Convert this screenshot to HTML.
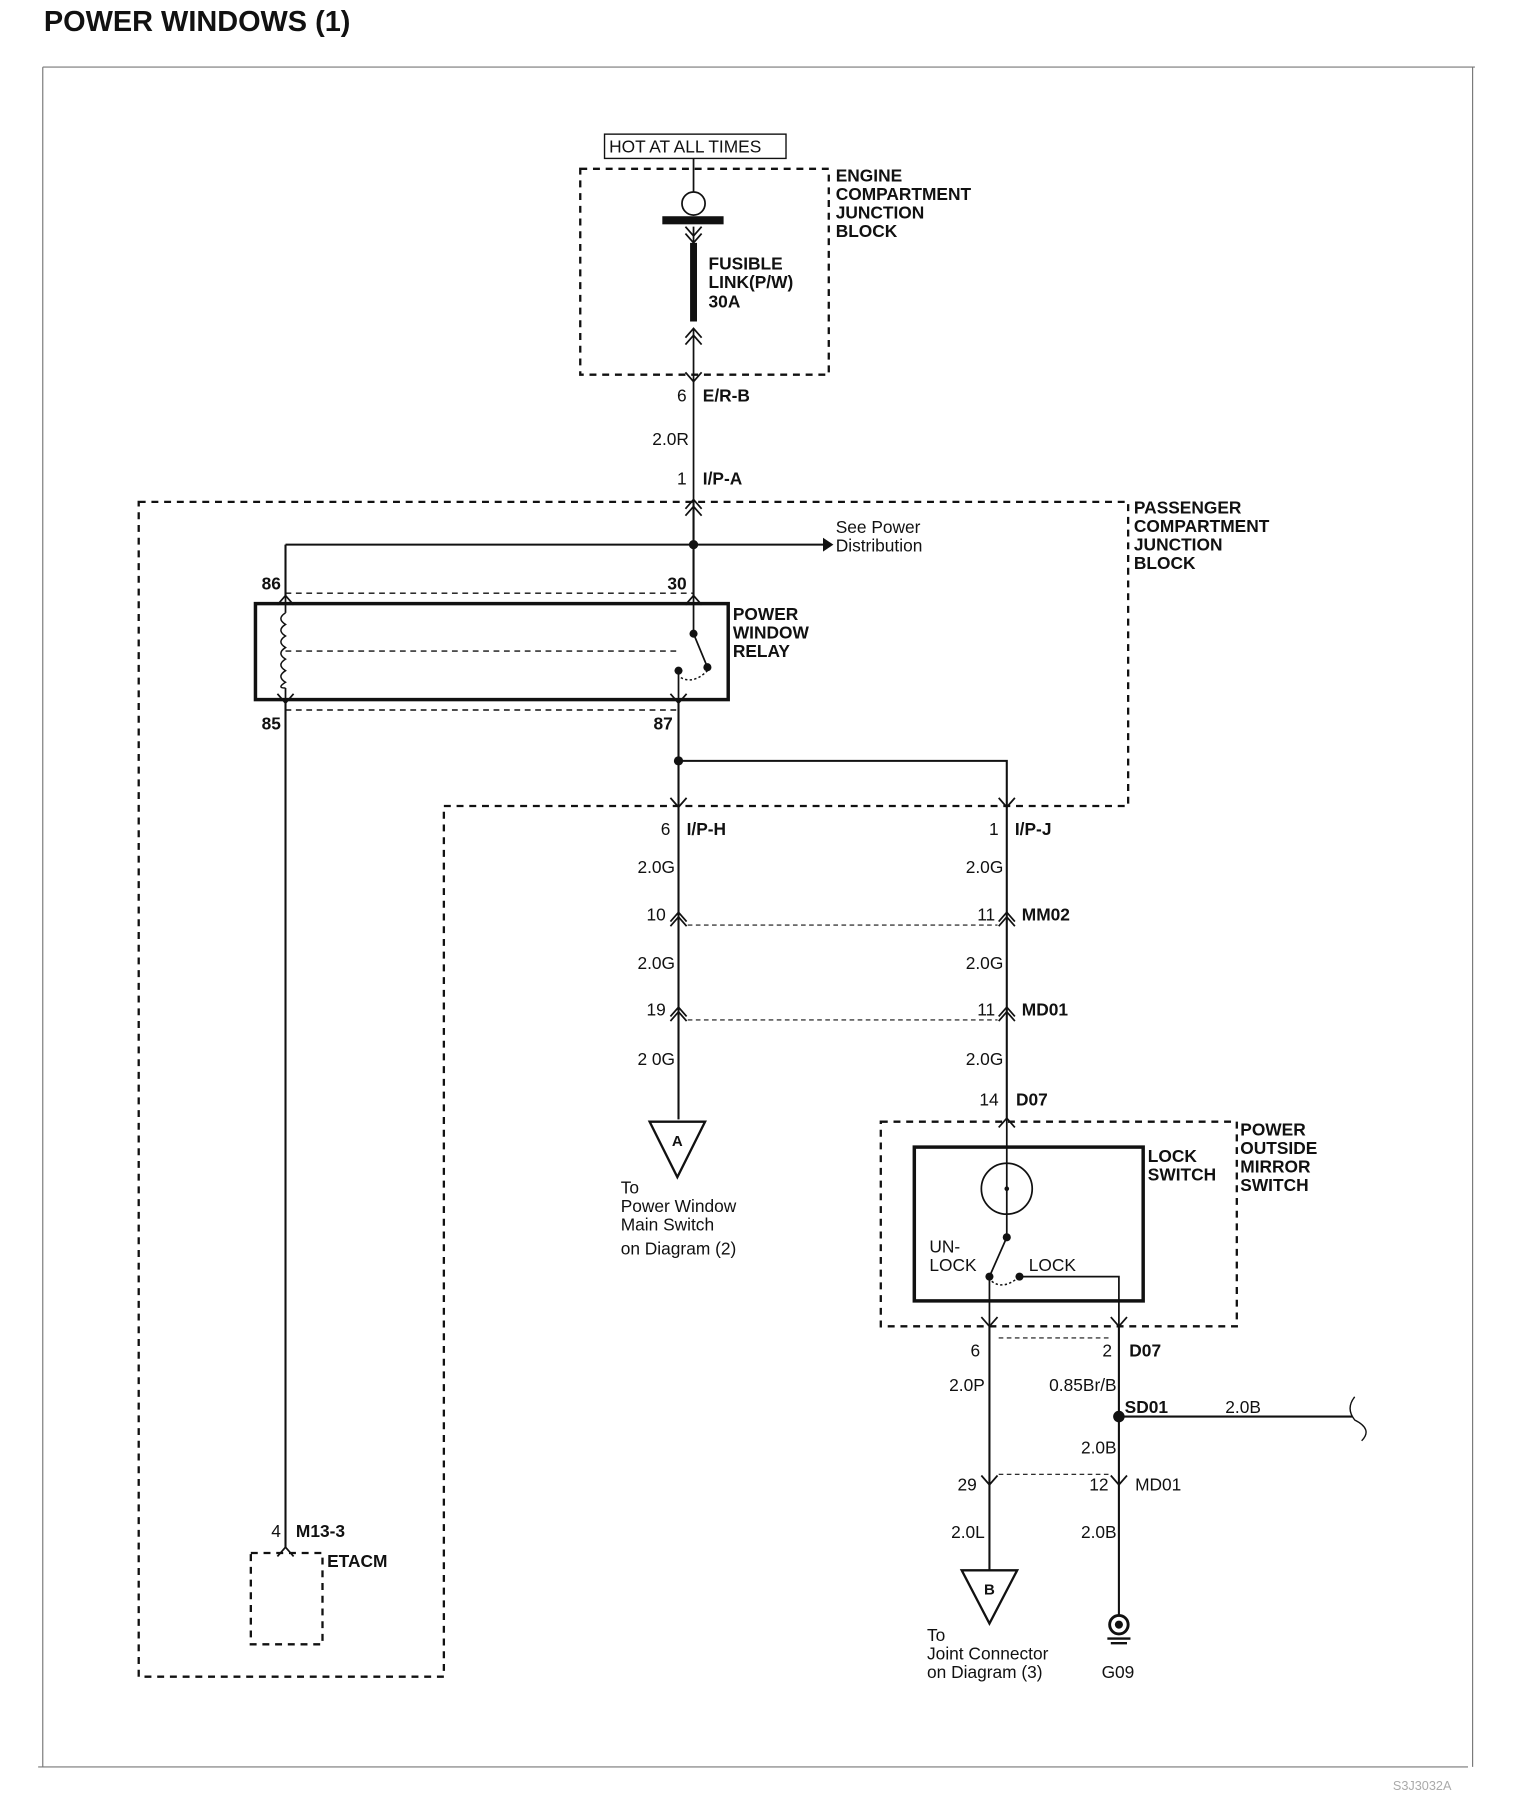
<!DOCTYPE html>
<html><head><meta charset="utf-8"><style>
html,body{margin:0;padding:0;background:#fff;}
svg{display:block;}
text{font-family:"Liberation Sans Narrow","Liberation Sans",sans-serif;fill:#111;}
.b{font-weight:bold;font-size:15px;}
.n{font-size:15px;}
</style></head><body>
<svg width="1520" height="1812" viewBox="0 0 1315 1567" preserveAspectRatio="none" xmlns="http://www.w3.org/2000/svg">
<g fill="none" stroke="#111">
<path d="M37 58 H1276 M37 58 V1528 M1274 58 V1528 M33 1528 H1270" stroke="#777" stroke-width="1"/>
<rect x="523" y="116" width="157" height="21" stroke-width="1.2"/>
<rect x="502" y="146" width="215" height="178" stroke-width="2" stroke-dasharray="6,5"/>
<path d="M120 434 H976 V697 H384 V1450 H120 Z" stroke-width="2" stroke-dasharray="6,5"/>
<path d="M600 137 V166" stroke-width="1.5"/>
<circle cx="600" cy="176" r="10" stroke-width="1.5"/>
<path d="M600 196 V210" stroke-width="1.5"/>
<path d="M593 196 L600 204 L607 196 M593 202 L600 210 L607 202" stroke-width="1.5"/>
<path d="M600 210 V278" stroke-width="6"/>
<path d="M593 292 L600 284 L607 292 M593 298 L600 290 L607 298" stroke-width="1.5"/>
<path d="M600 284 V432" stroke-width="1.5"/>
<path d="M593 322 L600 330 L607 322" stroke-width="1.5"/>
<path d="M593 440 L600 432 L607 440 M593 446 L600 438 L607 446" stroke-width="1.5"/>
<path d="M600 432 V515" stroke-width="1.8"/>
<path d="M247 471 H712 M247 471 V515" stroke-width="1.8"/>
<rect x="221" y="522" width="409" height="83" stroke-width="3"/>
<path d="M247 513 H600 M247 614 H587 M247 563 H587" stroke-width="1.2" stroke-dasharray="5,4"/>
<path d="M240 523 L247 515 L254 523 M593 523 L600 515 L607 523" stroke-width="1.5"/>
<path d="M247 515 V530 M247 595 V605" stroke-width="1.5"/>
<path d="M247 530 q-8 5 0 10 q-8 5 0 10 q-8 5 0 10 q-8 5 0 10 q-8 5 0 10 q-8 5 0 10 q-8 5 0 5" stroke-width="1.3"/>
<path d="M600 515 V548 L612 577 M587 580 V605" stroke-width="1.5"/>
<path d="M589 586 Q600 592 612 580" stroke-width="1.3" stroke-dasharray="2,2"/>
<path d="M240 600 L247 608 L254 600 M580 600 L587 608 L594 600" stroke-width="1.5"/>
<path d="M247 605 V1338" stroke-width="1.8"/>
<path d="M240 1346 L247 1338 L254 1346" stroke-width="1.5"/>
<rect x="217" y="1343" width="62" height="79" stroke-width="2" stroke-dasharray="6,5"/>
<path d="M587 605 V697 M587 658 H871 V697" stroke-width="1.8"/>
<path d="M580 690 L587 698 L594 690 M864 690 L871 698 L878 690" stroke-width="1.5"/>
<path d="M587 697 V968 M871 697 V967" stroke-width="1.8"/>
<path d="M580 797 L587 789 L594 797 M580 801 L587 793 L594 801 M864 797 L871 789 L878 797 M864 801 L871 793 L878 801" stroke-width="1.5"/>
<path d="M580 879 L587 871 L594 879 M580 883 L587 875 L594 883 M864 879 L871 871 L878 879 M864 883 L871 875 L878 883" stroke-width="1.5"/>
<path d="M595 800 H863 M595 882 H863" stroke-width="1" stroke-dasharray="4,3"/>
<path d="M562 970 H610 L586 1018 Z" stroke-width="2"/>
<path d="M864 975 L871 967 L878 975" stroke-width="1.5"/>
<rect x="762" y="970" width="308" height="177" stroke-width="2" stroke-dasharray="6,5"/>
<rect x="791" y="992" width="198" height="133" stroke-width="3"/>
<circle cx="871" cy="1028" r="22" stroke-width="1.5"/>
<path d="M871 967 V1070 L856 1104 V1147 M882 1104 H968 V1147" stroke-width="1.5"/>
<path d="M858 1108 Q868 1116 882 1104" stroke-width="1.3" stroke-dasharray="2,2"/>
<path d="M849 1139 L856 1147 L863 1139 M961 1139 L968 1147 L975 1139" stroke-width="1.5"/>
<path d="M856 1147 V1358 M968 1147 V1397" stroke-width="1.8"/>
<path d="M864 1157 H960 M864 1275 H960" stroke-width="1" stroke-dasharray="4,3"/>
<path d="M968 1225 H1170" stroke-width="1.8"/>
<path d="M1172 1208 Q1164 1218 1172 1228 Q1188 1236 1178 1246" stroke-width="1.2"/>
<path d="M849 1276 L856 1284 L863 1276 M961 1276 L968 1284 L975 1276" stroke-width="1.5"/>
<path d="M832 1358 H880 L856 1404 Z" stroke-width="2"/>
<circle cx="968" cy="1405" r="8" stroke-width="2.5"/>
<path d="M958 1417 H978 M961 1421 H975" stroke-width="2"/>
</g>
<g fill="#111">
<rect x="573" y="187" width="53" height="7"/>
<circle cx="600" cy="471" r="4"/>
<path d="M712 465 L721 471 L712 477 Z"/>
<circle cx="600" cy="548" r="3.5"/>
<circle cx="587" cy="580" r="3.5"/>
<circle cx="612" cy="577" r="3.5"/>
<circle cx="587" cy="658" r="4"/>
<circle cx="871" cy="1070" r="3.5"/>
<circle cx="856" cy="1104" r="3.5"/>
<circle cx="882" cy="1104" r="3.5"/>
<circle cx="968" cy="1225" r="5"/>
<circle cx="968" cy="1405" r="3.5"/>
<circle cx="871" cy="1028" r="2"/>
</g>
<text x="38" y="27" style="font-family:'Liberation Sans Narrow','Liberation Sans',sans-serif;font-weight:bold;font-size:25px">POWER  WINDOWS (1)</text>
<text x="527" y="132" class="n">HOT AT ALL TIMES</text>
<text class="b" x="723"><tspan x="723" y="157">ENGINE</tspan><tspan x="723" y="173">COMPARTMENT</tspan><tspan x="723" y="189">JUNCTION</tspan><tspan x="723" y="205">BLOCK</tspan></text>
<text class="b"><tspan x="613" y="233">FUSIBLE</tspan><tspan x="613" y="249">LINK(P/W)</tspan><tspan x="613" y="266">30A</tspan></text>
<text class="n" x="594" y="347" text-anchor="end">6</text><text class="b" x="608" y="347">E/R-B</text>
<text class="n" x="596" y="385" text-anchor="end">2.0R</text>
<text class="n" x="594" y="419" text-anchor="end">1</text><text class="b" x="608" y="419">I/P-A</text>
<text class="b"><tspan x="981" y="444">PASSENGER</tspan><tspan x="981" y="460">COMPARTMENT</tspan><tspan x="981" y="476">JUNCTION</tspan><tspan x="981" y="492">BLOCK</tspan></text>
<text class="n"><tspan x="723" y="461">See Power</tspan><tspan x="723" y="477">Distribution</tspan></text>
<text class="b" x="243" y="510" text-anchor="end">86</text>
<text class="b" x="594" y="510" text-anchor="end">30</text>
<text class="b"><tspan x="634" y="536">POWER</tspan><tspan x="634" y="552">WINDOW</tspan><tspan x="634" y="568">RELAY</tspan></text>
<text class="b" x="243" y="631" text-anchor="end">85</text>
<text class="b" x="582" y="631" text-anchor="end">87</text>
<text class="n" x="243" y="1329" text-anchor="end">4</text><text class="b" x="256" y="1329">M13-3</text>
<text class="b" x="283" y="1355">ETACM</text>
<text class="n" x="580" y="722" text-anchor="end">6</text><text class="b" x="594" y="722">I/P-H</text>
<text class="n" x="864" y="722" text-anchor="end">1</text><text class="b" x="878" y="722">I/P-J</text>
<text class="n" x="584" y="755" text-anchor="end">2.0G</text><text class="n" x="868" y="755" text-anchor="end">2.0G</text>
<text class="n" x="576" y="796" text-anchor="end">10</text><text class="n" x="861" y="796" text-anchor="end">11</text><text class="b" x="884" y="796">MM02</text>
<text class="n" x="584" y="838" text-anchor="end">2.0G</text><text class="n" x="868" y="838" text-anchor="end">2.0G</text>
<text class="n" x="576" y="878" text-anchor="end">19</text><text class="n" x="861" y="878" text-anchor="end">11</text><text class="b" x="884" y="878">MD01</text>
<text class="n" x="584" y="921" text-anchor="end">2 0G</text><text class="n" x="868" y="921" text-anchor="end">2.0G</text>
<text class="b" x="586" y="991" text-anchor="middle" style="font-size:13px">A</text>
<text class="n"><tspan x="537" y="1032">To</tspan><tspan x="537" y="1048">Power Window</tspan><tspan x="537" y="1064">Main Switch</tspan><tspan x="537" y="1085">on Diagram (2)</tspan></text>
<text class="n" x="864" y="956" text-anchor="end">14</text><text class="b" x="879" y="956">D07</text>
<text class="b"><tspan x="1073" y="982">POWER</tspan><tspan x="1073" y="998">OUTSIDE</tspan><tspan x="1073" y="1014">MIRROR</tspan><tspan x="1073" y="1030">SWITCH</tspan></text>
<text class="b"><tspan x="993" y="1005">LOCK</tspan><tspan x="993" y="1021">SWITCH</tspan></text>
<text class="n"><tspan x="804" y="1083">UN-</tspan><tspan x="804" y="1099">LOCK</tspan></text>
<text class="n" x="890" y="1099">LOCK</text>
<text class="n" x="848" y="1173" text-anchor="end">6</text>
<text class="n" x="962" y="1173" text-anchor="end">2</text><text class="b" x="977" y="1173">D07</text>
<text class="n" x="852" y="1203" text-anchor="end">2.0P</text>
<text class="n" x="966" y="1203" text-anchor="end">0.85Br/B</text>
<text class="b" x="973" y="1222">SD01</text><text class="n" x="1060" y="1222">2.0B</text>
<text class="n" x="966" y="1257" text-anchor="end">2.0B</text>
<text class="n" x="845" y="1289" text-anchor="end">29</text>
<text class="n" x="959" y="1289" text-anchor="end">12</text><text class="n" x="982" y="1289">MD01</text>
<text class="n" x="852" y="1330" text-anchor="end">2.0L</text>
<text class="n" x="966" y="1330" text-anchor="end">2.0B</text>
<text class="b" x="856" y="1379" text-anchor="middle" style="font-size:13px">B</text>
<text class="n"><tspan x="802" y="1419">To</tspan><tspan x="802" y="1435">Joint Connector</tspan><tspan x="802" y="1451">on Diagram (3)</tspan></text>
<text class="n" x="953" y="1451">G09</text>
<text x="1205" y="1548" style="font-size:11px;fill:#aaa">S3J3032A</text>
</svg>
</body></html>
